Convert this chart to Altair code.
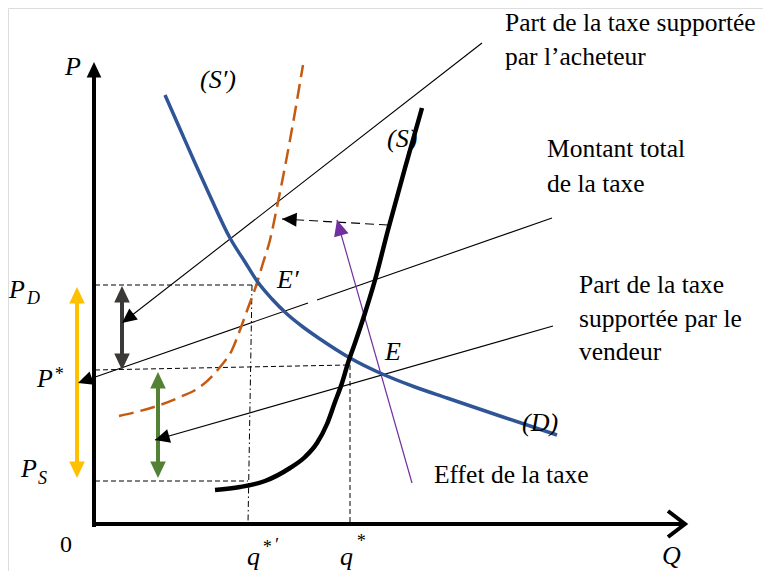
import math
import altair as alt
import pandas as pd

# ---------------- data (image pixel coordinates) ----------------
# demand curve (D)
D_x = [165, 180, 195, 210, 230, 245, 257, 272, 287, 303, 320, 350, 380, 415, 447, 500, 557]
D_y = [95, 129, 163, 196, 238, 262, 281, 299, 314, 327, 339, 358, 373, 387, 398, 416, 435]
# supply curve (S)
S_x = [215, 240, 265, 290, 305, 317, 327, 335, 342, 348, 355, 365, 375, 388, 405, 422]
S_y = [490, 487, 481, 468, 457, 443, 424, 402, 383, 363, 343, 313, 280, 230, 168, 108]
# shifted supply curve (S')
Sp_x = [119, 140, 160, 180, 200, 220, 232, 240, 248, 257, 263, 270, 277, 290, 303]
Sp_y = [416, 411, 405, 397, 387, 367, 350, 330, 308, 283, 263, 240, 207, 140, 65]

# axes
axis_x_pts = [(92, 524), (683, 524)]
axis_y_pts = [(94, 527), (94, 74)]
chevron_pts = [(668, 511), (685, 524), (668, 537)]
axis_y_tip = (94, 62)

# guide lines
dashed_guides = [
    [(95, 285), (258, 285)],   # P_D
    [(95, 370), (348, 365)],   # P*
    [(95, 481), (248, 481)],   # P_S
    [(350, 365), (350, 524)],  # q*
]
dashdot_guides = [[(252, 285), (248, 524)]]  # q*'

# thin annotation lines (from, tip)
note_acheteur = [(482, 43), (122, 323)]
note_montant_a = [(552, 218), (317, 300)]
note_montant_b = [(308, 303), (78, 383)]
note_vendeur = [(553, 326), (155, 440)]
purple_effet = [(412, 483), (337, 220)]
dashed_shift = [(388, 225), (282, 219)]

# double arrows (x, top tip, bottom tip)
yellow_arrow = (77, 287, 478)
gray_arrow = (122, 286, 370)
green_arrow = (158, 372, 478)

# text
note_texts = ["Part de la taxe supportée", "par l’acheteur", "Montant total", "de la taxe",
              "Part de la taxe", "supportée par le", "vendeur", "Effet de la taxe"]
note_x = [505, 505, 547, 547, 579, 579, 579, 434]
note_y = [31, 65, 157, 192, 293, 327, 360, 483]

math_texts = ["P", "(S′)", "(S)", "E′", "E", "(D)", "P", "P", "P", "q", "q", "Q"]
math_x = [65, 200, 387, 277, 385, 522, 9, 37, 21, 247, 340, 662]
math_y = [75, 88, 147, 288, 360, 431, 298, 387, 477, 565, 565, 564]

small_texts = ["D", "*", "S", "*", "′", "*"]
small_x = [27, 54, 38, 262, 274, 356]
small_y = [304, 380, 484, 553, 551, 547]

zero_text = ["0"]
zero_x = [60]
zero_y = [552]

# ---------------- helpers ----------------
xs = alt.Scale(domain=[8, 763], nice=False, zero=False)
ys = alt.Scale(domain=[8, 571], nice=False, zero=False, reverse=True)
X = alt.X("x:Q", scale=xs, axis=None)
Y = alt.Y("y:Q", scale=ys, axis=None)


def poly_df(polys):
    rows = []
    for i, p in enumerate(polys):
        for j, (x, y) in enumerate(p):
            rows.append({"id": i, "o": j, "x": x, "y": y})
    return pd.DataFrame(rows)


def lines(polys, **mk):
    return alt.Chart(poly_df(polys)).mark_line(**mk).encode(
        x=X, y=Y, detail="id:N", order="o:Q")


HEAD = "M0,0L-0.95,2L0.95,2Z"


def heads(items, color, size):
    rows = []
    for (tx, ty, fx, fy) in items:
        ang = math.degrees(math.atan2(tx - fx, -(ty - fy))) % 360
        rows.append({"x": tx, "y": ty, "a": ang})
    return alt.Chart(pd.DataFrame(rows)).mark_point(
        shape=HEAD, filled=True, color=color, opacity=1, size=size, strokeWidth=0
    ).encode(x=X, y=Y, angle=alt.Angle("a:Q", scale=None))


def texts(t, x, y, **mk):
    df = pd.DataFrame({"t": t, "x": x, "y": y})
    return alt.Chart(df).mark_text(align="left", baseline="alphabetic",
                                   font="Liberation Serif", color="black", **mk).encode(
        x=X, y=Y, text="t:N")


def curve(cx, cy, **mk):
    return lines([list(zip(cx, cy))], interpolate="monotone", **mk)


def double(a):
    x, t, b = a
    return [[(x, t + 8), (x, b - 8)]], [(x, t, x, b), (x, b, x, t)]


layers = []

# guides
layers.append(lines(dashed_guides, color="black", strokeWidth=1, strokeDash=[5, 3]))
layers.append(lines(dashdot_guides, color="black", strokeWidth=1, strokeDash=[6, 3, 1.5, 3]))

# thin annotation lines
layers.append(lines([note_acheteur, note_montant_a, note_montant_b, note_vendeur],
                    color="black", strokeWidth=1.1))
layers.append(lines([dashed_shift], color="black", strokeWidth=1.1, strokeDash=[9, 5]))
layers.append(lines([purple_effet], color="#7030A0", strokeWidth=1.2))

# curves
layers.append(curve(Sp_x, Sp_y, color="#C55A11", strokeWidth=2.5, strokeDash=[15, 7]))
layers.append(curve(D_x, D_y, color="#2F5597", strokeWidth=3.5))
layers.append(curve(S_x, S_y, color="black", strokeWidth=4.5))

# axes
layers.append(lines([axis_x_pts, axis_y_pts], color="black", strokeWidth=4))
layers.append(lines([chevron_pts], color="black", strokeWidth=4, strokeJoin="miter"))
layers.append(heads([(axis_y_tip[0], axis_y_tip[1], 94, 527)], "black", 240))

# double arrows
for arr, col in [(yellow_arrow, "#FFC000"), (gray_arrow, "#3B3838"), (green_arrow, "#548235")]:
    shaft, hd = double(arr)
    layers.append(lines(shaft, color=col, strokeWidth=4))
    layers.append(heads(hd, col, 270))

# heads of annotation lines
thin_items = [
    (note_acheteur[1][0], note_acheteur[1][1], note_acheteur[0][0], note_acheteur[0][1]),
    (note_montant_b[1][0], note_montant_b[1][1], note_montant_b[0][0], note_montant_b[0][1]),
    (note_vendeur[1][0], note_vendeur[1][1], note_vendeur[0][0], note_vendeur[0][1]),
    (dashed_shift[1][0], dashed_shift[1][1], dashed_shift[0][0], dashed_shift[0][1]),
]
layers.append(heads(thin_items, "black", 215))
layers.append(heads([(purple_effet[1][0], purple_effet[1][1],
                      purple_effet[0][0], purple_effet[0][1])], "#7030A0", 250))

# text
layers.append(texts(note_texts, note_x, note_y, fontSize=25.5))
layers.append(texts(math_texts, math_x, math_y, fontSize=26, fontStyle="italic"))
layers.append(texts(small_texts, small_x, small_y, fontSize=18, fontStyle="italic"))
layers.append(texts(zero_text, zero_x, zero_y, fontSize=24))

chart = alt.layer(*layers).properties(
    width=755, height=563, padding=0, autosize=alt.AutoSizeParams(type="none")
).configure_view(stroke=None).configure(background="white")

chart.save("out.html", embed_options={"renderer": "svg", "actions": False})
